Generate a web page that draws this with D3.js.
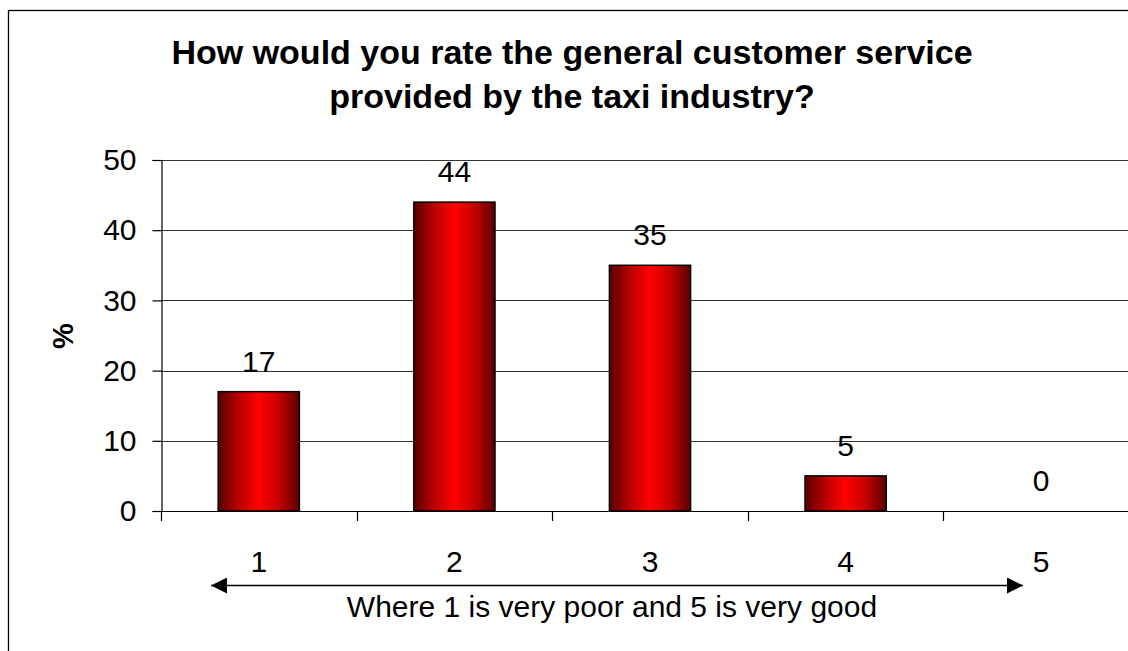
<!DOCTYPE html>
<html>
<head>
<meta charset="utf-8">
<script src="https://cdn.jsdelivr.net/npm/d3@7"></script>
<style>
  html, body { margin: 0; padding: 0; background: #fff; }
  svg { display: block; font-family: "Liberation Sans", Arial, Helvetica, sans-serif; }
</style>
</head>
<body>
<svg id="chart" width="1128" height="651"></svg>
<script>
// Survey: rating of taxi industry customer service (percent of respondents)
const categories = ["1", "2", "3", "4", "5"];
const percentages = [17, 44, 35, 5, 0];
const yTicks = [0, 10, 20, 30, 40, 50];
const titleLines = ["How would you rate the general customer service", "provided by the taxi industry?"];
const xAxisTitle = "Where 1 is very poor and 5 is very good";
const yAxisTitle = "%";

const svg = d3.select("#chart");
const W = 1128, H = 651;
const labelSize = 30;

// outer chart frame
svg.append("rect")
  .attr("x", 8.5).attr("y", 10.5)
  .attr("width", W + 10).attr("height", H + 10)
  .attr("fill", "#fff").attr("stroke", "#000").attr("stroke-width", 1.3);

const plot = { left: 161, right: 1139, top: 160, bottom: 511 };

const x = d3.scaleBand()
  .domain(categories)
  .range([plot.left, plot.right])
  .paddingInner(0.585)
  .paddingOuter(0.2925);

const y = d3.scaleLinear().domain([0, 50]).range([plot.bottom, plot.top]);

// bar gradient: dark edges, bright red centre
const defs = svg.append("defs");
const grad = defs.append("linearGradient")
  .attr("id", "barFill").attr("x1", "0%").attr("x2", "100%").attr("y1", "0%").attr("y2", "0%");
grad.append("stop").attr("offset", "0%").attr("stop-color", "#5a0000");
grad.append("stop").attr("offset", "25%").attr("stop-color", "#b80000");
grad.append("stop").attr("offset", "50%").attr("stop-color", "#ff0000");
grad.append("stop").attr("offset", "75%").attr("stop-color", "#c40000");
grad.append("stop").attr("offset", "100%").attr("stop-color", "#5a0000");

// horizontal gridlines
svg.append("g")
  .selectAll("line")
  .data(yTicks.filter(d => d > 0))
  .join("line")
  .attr("x1", plot.left).attr("x2", plot.right)
  .attr("y1", d => Math.round(y(d)) + 0.5).attr("y2", d => Math.round(y(d)) + 0.5)
  .attr("stroke", "#333").attr("stroke-width", 1.2);

// y axis
const yAxis = svg.append("g")
  .attr("transform", `translate(${plot.left + 0.5},0)`)
  .call(d3.axisLeft(y).tickValues(yTicks).tickSize(9).tickPadding(16).tickFormat(d3.format("d")));
yAxis.select(".domain").attr("stroke", "#000").attr("stroke-width", 1.2);
yAxis.selectAll(".tick line").attr("stroke", "#000").attr("stroke-width", 1.2);
yAxis.selectAll(".tick text")
  .attr("font-size", labelSize).attr("font-family", "Liberation Sans, Arial, sans-serif").attr("fill", "#000");

// x axis with ticks at category boundaries
const boundaries = categories.map(c => x(c) - (x.step() - x.bandwidth()) / 2);
const xAxisG = svg.append("g");
xAxisG.append("line")
  .attr("x1", plot.left).attr("x2", plot.right)
  .attr("y1", plot.bottom + 0.5).attr("y2", plot.bottom + 0.5)
  .attr("stroke", "#000").attr("stroke-width", 1.2);
xAxisG.selectAll("line.tick")
  .data(boundaries)
  .join("line")
  .attr("class", "tick")
  .attr("x1", d => Math.round(d) + 0.5).attr("x2", d => Math.round(d) + 0.5)
  .attr("y1", plot.bottom).attr("y2", plot.bottom + 10)
  .attr("stroke", "#000").attr("stroke-width", 1.2);
xAxisG.selectAll("text")
  .data(categories)
  .join("text")
  .attr("x", d => x(d) + x.bandwidth() / 2)
  .attr("y", 572)
  .attr("text-anchor", "middle")
  .attr("font-size", labelSize)
  .text(d => d);

// bars
const data = categories.map((c, i) => ({ cat: c, value: percentages[i] }));
svg.append("g")
  .selectAll("rect")
  .data(data.filter(d => d.value > 0))
  .join("rect")
  .attr("x", d => x(d.cat))
  .attr("y", d => y(d.value))
  .attr("width", x.bandwidth())
  .attr("height", d => y(0) - y(d.value))
  .attr("fill", "url(#barFill)")
  .attr("stroke", "#000").attr("stroke-width", 1.5);

// value labels
svg.append("g")
  .selectAll("text")
  .data(data)
  .join("text")
  .attr("x", d => x(d.cat) + x.bandwidth() / 2)
  .attr("y", d => y(d.value) - 20)
  .attr("text-anchor", "middle")
  .attr("font-size", labelSize)
  .text(d => d.value);

// title
svg.append("g")
  .selectAll("text")
  .data(titleLines)
  .join("text")
  .attr("x", 572)
  .attr("y", (d, i) => 64 + i * 44)
  .attr("text-anchor", "middle")
  .attr("font-size", 34)
  .attr("font-weight", "bold")
  .text(d => d);

// y axis title
svg.append("text")
  .attr("transform", "translate(73,336) rotate(-90)")
  .attr("text-anchor", "middle")
  .attr("font-size", 29)
  .attr("font-weight", "bold")
  .text(yAxisTitle);

// double-headed scale arrow
defs.append("marker")
  .attr("id", "arrowHead")
  .attr("viewBox", "0 0 10 10")
  .attr("refX", 10).attr("refY", 5)
  .attr("markerWidth", 16).attr("markerHeight", 16)
  .attr("markerUnits", "userSpaceOnUse")
  .attr("orient", "auto-start-reverse")
  .append("path").attr("d", "M0,0 L10,5 L0,10 Z").attr("fill", "#000");

svg.append("line")
  .attr("x1", 211).attr("x2", 1023)
  .attr("y1", 585.5).attr("y2", 585.5)
  .attr("stroke", "#000").attr("stroke-width", 1.5)
  .attr("marker-start", "url(#arrowHead)")
  .attr("marker-end", "url(#arrowHead)");

svg.append("text")
  .attr("x", 612)
  .attr("y", 617)
  .attr("text-anchor", "middle")
  .attr("font-size", labelSize)
  .text(xAxisTitle);
</script>
</body>
</html>
